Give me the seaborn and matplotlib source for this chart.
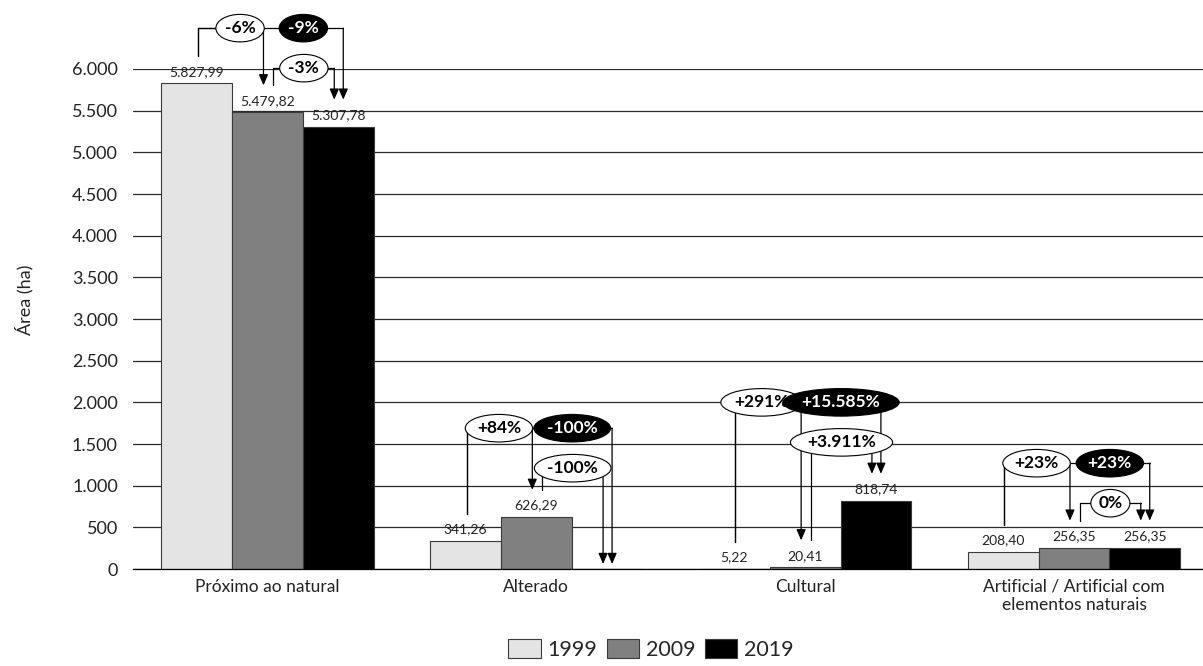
import numpy as np
import pandas as pd
import matplotlib
matplotlib.use("Agg")
import matplotlib.pyplot as plt
import seaborn as sns

# --- Dados ---
categorias = ["Próximo ao natural", "Alterado", "Cultural",
              "Artificial / Artificial com\nelementos naturais"]
anos = ["1999", "2009", "2019"]
area_1999 = [5827.99, 341.26, 5.22, 208.40]
area_2009 = [5479.82, 626.29, 20.41, 256.35]
area_2019 = [5307.78, 0.0, 818.74, 256.35]
var_99_09 = ["-6%", "+84%", "+291%", "+23%"]
var_09_19 = ["-3%", "-100%", "+3.911%", "0%"]
var_99_19 = ["-9%", "-100%", "+15.585%", "+23%"]
yticks = list(range(0, 6001, 500))

# --- Estilo ---
cores = ["#e4e4e4", "#808080", "#000000"]
nivel = [6490, 1690, 2000, 1270]   # altura das chaves de cada grupo
desl = [10, 0, -6, 0]              # ajuste (px) da elipse 1999->2009
passo = 480                          # distância entre chave de cima e de baixo

sns.set_style("white")
plt.rcParams['font.family'] = ['Lato', 'DejaVu Sans']

df = pd.DataFrame({
    "categoria": categorias * 3,
    "ano": np.repeat(anos, len(categorias)),
    "area": area_1999 + area_2009 + area_2019,
})


def fmt_br(v, dec=2):
    s = f"{v:,.{dec}f}"
    return s.replace(",", "X").replace(".", ",").replace("X", ".")


def chave(ax, x0, y0, x1, y1, h, xt, texto, escuro, z):
    """Desenha uma chave com seta e o rótulo em elipse."""
    ax.plot([x0, x0, x1], [y0, h, h], color="black", lw=0.9,
            clip_on=False, zorder=4)
    ax.annotate("", xy=(x1, y1), xytext=(x1, h),
                arrowprops=dict(arrowstyle="-|>,head_length=0.65,head_width=0.28",
                                color="black", lw=0.9, shrinkA=0, shrinkB=0),
                annotation_clip=False, zorder=4)
    ax.text(xt, h, texto, ha="center", va="center",
            fontsize=12.5, fontweight="bold",
            color="white" if escuro else "black",
            bbox=dict(boxstyle="ellipse,pad=0.1",
                      fc="black" if escuro else "white", ec="black", lw=0.8),
            zorder=z, clip_on=False)


fig = plt.figure(figsize=(12.03, 6.66), dpi=100)
ax = fig.add_axes([0.1106, 0.1456, 0.8894, 0.7508])

sns.barplot(data=df, x="categoria", y="area", hue="ano", palette=cores,
            saturation=1, width=0.79, edgecolor="#3a3a3a", linewidth=0.8,
            ax=ax)

handles, labels = ax.get_legend_handles_labels()
ax.get_legend().remove()

# rótulos de valor
for cont, vals in zip(ax.containers, [area_1999, area_2009, area_2019]):
    ax.bar_label(cont, labels=[fmt_br(v) if v > 0 else "" for v in vals],
                 padding=4, fontsize=10, color="#222222")

# chaves de variação percentual
centros = [[b.get_x() + b.get_width() / 2 for b in cont] for cont in ax.containers]
px = 1 / 269.0
z = 6
for i in range(len(categorias)):
    a, b, c = area_1999[i], area_2009[i], area_2019[i]
    ya = a + 324 if a > 0 else a + 60
    yb = b + 324 if b > 0 else b + 60
    yc = c + 324 if c > 0 else c + 60
    xa, xb, xc = centros[0][i], centros[1][i], centros[2][i]
    x_ab = xb - 4 * px
    x_ac = xc + 5 * px
    x_bc0, x_bc1 = xb + 6 * px, xc - 4 * px
    chave(ax, xa + px, ya, x_ab, yb, nivel[i], (xa + x_ab) / 2 + desl[i] * px,
          var_99_09[i], False, z)
    chave(ax, xa + px, ya, x_ac, yc, nivel[i], (x_ab + x_ac) / 2,
          var_99_19[i], True, z + 1)
    chave(ax, x_bc0, yb, x_bc1, yc, nivel[i] - passo, (x_bc0 + x_bc1) / 2,
          var_09_19[i], False, z + 2)
    z += 3

ax.set_xlim(-0.5, 3.48)
ax.set_ylim(0, 6000)
ax.set_yticks(yticks)
ax.set_yticklabels([fmt_br(v, 0) for v in yticks], fontsize=13, color="#222222")
ax.set_xticks(range(len(categorias)))
ax.set_xticklabels(categorias, fontsize=12.5, color="#222222")
ax.tick_params(axis="y", length=0, pad=11)
ax.tick_params(axis="x", length=0, pad=7)
ax.set_xlabel("")
ax.set_ylabel("")
ax.yaxis.grid(True, color="#2a2a2a", lw=0.9)
ax.set_axisbelow(True)
for s in ["top", "right", "left"]:
    ax.spines[s].set_visible(False)
ax.spines["bottom"].set_color("black")
ax.spines["bottom"].set_linewidth(0.9)

fig.text(0.02, 0.55, "Área (ha)", rotation=90, ha="center", va="center",
         fontsize=13, color="#222222")

fig.legend(handles, labels, loc="upper center", bbox_to_anchor=(0.541, 0.057),
           ncol=3, frameon=False, fontsize=15.5, handlelength=1.5,
           handleheight=1.0, handletextpad=0.3, columnspacing=0.45,
           borderpad=0)

fig.savefig("out.png", dpi=100)
